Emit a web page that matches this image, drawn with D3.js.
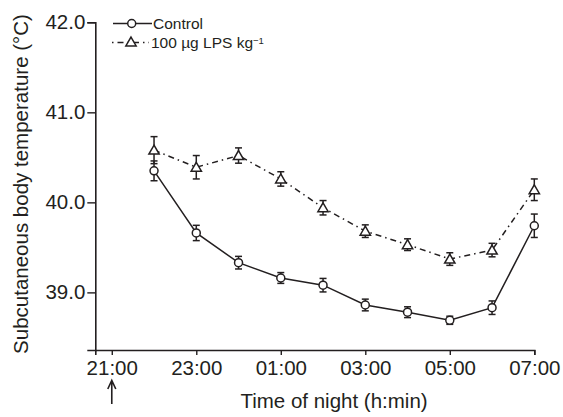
<!DOCTYPE html>
<html>
<head>
<meta charset="utf-8">
<script src="https://cdn.jsdelivr.net/npm/d3@7"></script>
<style>
  body { margin: 0; background: #fff; }
  svg { display: block; font-family: "Liberation Sans", Arial, sans-serif; }
</style>
</head>
<body>
<div id="chart"></div>
<script>
// Hours after 21:00 (injection time), readings from 22:00 to 07:00
const hours = [1, 2, 3, 4, 5, 6, 7, 8, 9, 10];
const control = [40.35, 39.66, 39.33, 39.16, 39.08, 38.86, 38.78, 38.69, 38.83, 39.74];
const control_sem = [0.11, 0.085, 0.07, 0.06, 0.075, 0.065, 0.06, 0.045, 0.075, 0.13];
const lps = [40.58, 40.39, 40.52, 40.26, 39.94, 39.68, 39.53, 39.37, 39.47, 40.14];
const lps_sem = [0.15, 0.13, 0.085, 0.08, 0.08, 0.07, 0.065, 0.07, 0.075, 0.12];
const x_ticks = [0, 2, 4, 6, 8, 10];
const x_tick_labels = ["21:00", "23:00", "01:00", "03:00", "05:00", "07:00"];
const y_ticks = [39, 40, 41, 42];

const width = 563;
const height = 417;
const ink = "#231f20";

const x = d3.scaleLinear().domain([-0.39, 10]).range([95.3, 534.3]);
const y = d3.scaleLinear().domain([38.36, 42.0]).range([350, 22.3]);

const svg = d3.select("#chart").append("svg")
  .attr("width", width)
  .attr("height", height);

// axes
const x_axis = svg.append("g")
  .attr("transform", `translate(0,${y(38.36)})`)
  .call(d3.axisBottom(x)
    .tickValues(x_ticks)
    .tickFormat((d, i) => x_tick_labels[i])
    .tickSizeOuter(0)
    .tickSize(5)
    .tickPadding(5));
const y_axis = svg.append("g")
  .attr("transform", `translate(${x(-0.39)},0)`)
  .call(d3.axisLeft(y)
    .tickValues(y_ticks)
    .tickFormat(d3.format(".1f"))
    .tickSizeOuter(0)
    .tickSize(8)
    .tickPadding(2));
[x_axis, y_axis].forEach((axis) => {
  axis.select(".domain").attr("stroke", ink).attr("stroke-width", 1.6);
  axis.selectAll(".tick line").attr("stroke", ink).attr("stroke-width", 1.4);
  axis.selectAll(".tick text")
    .attr("fill", ink)
    .attr("font-size", 20.5)
    .attr("font-family", "Liberation Sans, Arial, sans-serif");
});

svg.append("text")
  .attr("x", 334)
  .attr("y", 407.7)
  .attr("text-anchor", "middle")
  .attr("font-size", 20.5)
  .attr("fill", ink)
  .text("Time of night (h:min)");
svg.append("text")
  .attr("transform", "rotate(-90)")
  .attr("x", -184)
  .attr("y", 27.5)
  .attr("text-anchor", "middle")
  .attr("font-size", 20.5)
  .attr("fill", ink)
  .text("Subcutaneous body temperature (°C)");

// injection arrow under 21:00
const arrow_x = x(0);
svg.append("path")
  .attr("d", `M${arrow_x},404 L${arrow_x},381 M${arrow_x - 4},389 L${arrow_x},380.5 L${arrow_x + 4},389`)
  .attr("fill", "none")
  .attr("stroke", ink)
  .attr("stroke-width", 1.6);

const series = [
  { values: control, sem: control_sem, marker: "circle", dash: null },
  { values: lps, sem: lps_sem, marker: "triangle", dash: "6 4 1.5 4" },
];

const line = d3.line().x((d) => x(d[0])).y((d) => y(d[1]));
const circle_symbol = d3.symbol().type(d3.symbolCircle).size(50);
const triangle_symbol = d3.symbol().type(d3.symbolTriangle).size(46);

series.forEach((s) => {
  const pts = hours.map((h, i) => [h, s.values[i], s.sem[i]]);
  svg.append("path")
    .attr("d", line(pts))
    .attr("fill", "none")
    .attr("stroke", ink)
    .attr("stroke-width", 1.5)
    .attr("stroke-dasharray", s.dash);

  const bars = svg.append("g").attr("stroke", ink).attr("stroke-width", 1.5);
  pts.forEach(([h, v, e]) => {
    const cx = x(h);
    bars.append("line").attr("x1", cx).attr("x2", cx).attr("y1", y(v + e)).attr("y2", y(v - e));
    bars.append("line").attr("x1", cx - 3.5).attr("x2", cx + 3.5).attr("y1", y(v + e)).attr("y2", y(v + e));
    bars.append("line").attr("x1", cx - 3.5).attr("x2", cx + 3.5).attr("y1", y(v - e)).attr("y2", y(v - e));
  });

  svg.append("g")
    .selectAll("path")
    .data(pts)
    .join("path")
    .attr("transform", (d) => `translate(${x(d[0])},${y(d[1]) + (s.marker === "triangle" ? 1 : 0)})`)
    .attr("d", s.marker === "circle" ? circle_symbol() : triangle_symbol())
    .attr("fill", "#fff")
    .attr("stroke", ink)
    .attr("stroke-width", 1.5);
});

// legend
const legend = svg.append("g");
legend.append("line")
  .attr("x1", 113).attr("x2", 152).attr("y1", 23.5).attr("y2", 23.5)
  .attr("stroke", ink).attr("stroke-width", 1.5);
legend.append("path")
  .attr("transform", "translate(131.7,23.5)")
  .attr("d", circle_symbol())
  .attr("fill", "#fff").attr("stroke", ink).attr("stroke-width", 1.5);
legend.append("text")
  .attr("x", 153).attr("y", 28.5)
  .attr("font-size", 15.5).attr("fill", ink)
  .text("Control");

legend.append("line")
  .attr("x1", 112).attr("x2", 149).attr("y1", 42.5).attr("y2", 42.5)
  .attr("stroke", ink).attr("stroke-width", 1.5)
  .attr("stroke-dasharray", "1.5 4 6 4");
legend.append("path")
  .attr("transform", "translate(131,43)")
  .attr("d", triangle_symbol())
  .attr("fill", "#fff").attr("stroke", ink).attr("stroke-width", 1.5);
const lps_label = legend.append("text")
  .attr("x", 151).attr("y", 47.5)
  .attr("font-size", 15.5).attr("fill", ink);
lps_label.append("tspan").text("100 \u00b5g LPS kg");
lps_label.append("tspan").attr("font-size", 9.5).attr("dy", -3.5).text("\u22121");
</script>
</body>
</html>
